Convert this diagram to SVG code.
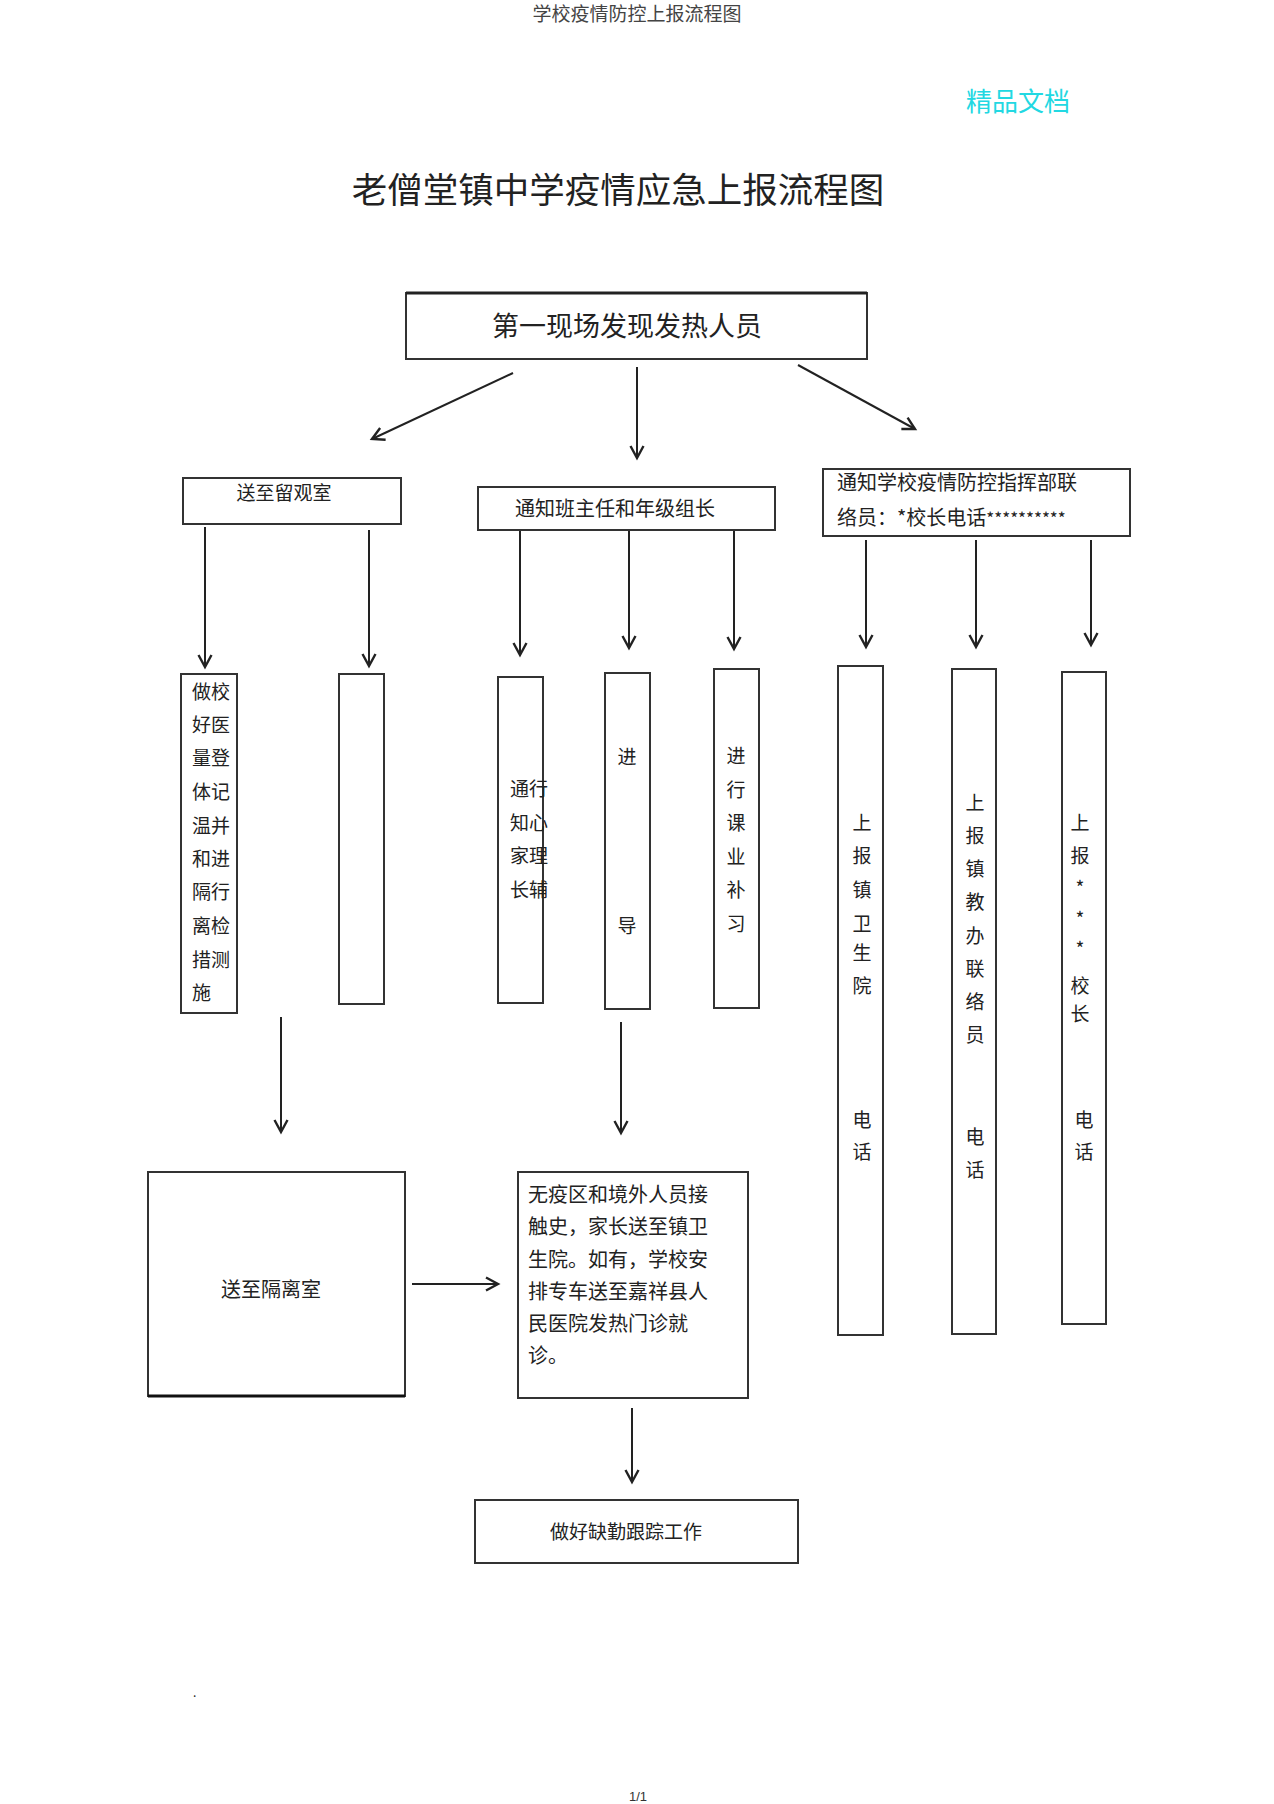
<svg xmlns="http://www.w3.org/2000/svg" width="1274" height="1804" viewBox="0 0 1274 1804">
<defs>
<marker id="ah" markerUnits="userSpaceOnUse" markerWidth="18" markerHeight="18" refX="13" refY="8" orient="auto" viewBox="0 0 18 16">
<path d="M1,1.5 L13,8 L1,14.5" fill="none" stroke="#222" stroke-width="2.4"/>
</marker>
<style>
text{font-family:"Noto Sans CJK SC","Liberation Serif",serif;fill:#222}
.box{fill:#fff;stroke:#333;stroke-width:2}
.t{font-size:19px}
.c{text-anchor:middle}
.arr{stroke:#222;stroke-width:2;fill:none;marker-end:url(#ah)}
</style>
</defs>
<rect width="1274" height="1804" fill="#fff"/>
<text x="637" y="21" class="c" style="font-size:19px;fill:#444">学校疫情防控上报流程图</text>
<text x="1018" y="111" class="c" style="font-size:26px;fill:#22d8e2">精品文档</text>
<text x="618" y="203" class="c" style="font-size:35.5px">老僧堂镇中学疫情应急上报流程图</text>

<g id="n_start"><rect class="box" x="406" y="293" width="461" height="66"/><line x1="406" y1="293" x2="867" y2="293" stroke="#222" stroke-width="3"/><text x="627" y="336" class="c" style="font-size:27px">第一现场发现发热人员</text></g>
<g id="n_liuguan"><rect class="box" x="183" y="478" width="218" height="46"/><text x="284" y="500" class="c t">送至留观室</text></g>
<g id="n_banzhuren"><rect class="box" x="478" y="487" width="297" height="43"/><text x="615" y="516" class="c" style="font-size:20px">通知班主任和年级组长</text></g>
<g id="n_zhihui"><rect class="box" x="823" y="469" width="307" height="67"/><text x="837" y="490" style="font-size:20px">通知学校疫情防控指挥部联</text><text x="837" y="525" style="font-size:20px">络员：*校长电话<tspan style="font-size:17px">**********</tspan></text></g>

<g id="n_celiang"><rect class="box" x="181" y="674" width="56" height="339"/>
<text class="t" x="192" y="699">做校</text><text class="t" x="192" y="732">好医</text><text class="t" x="192" y="765">量登</text><text class="t" x="192" y="799">体记</text><text class="t" x="192" y="833">温并</text><text class="t" x="192" y="866">和进</text><text class="t" x="192" y="899">隔行</text><text class="t" x="192" y="933">离检</text><text class="t" x="192" y="967">措测</text><text class="t" x="192" y="1000">施</text></g>
<g id="n_empty"><rect class="box" x="339" y="674" width="45" height="330"/></g>
<g id="n_xinli"><rect class="box" x="498" y="677" width="45" height="326"/>
<text class="t" x="510" y="796">通行</text><text class="t" x="510" y="830">知心</text><text class="t" x="510" y="863">家理</text><text class="t" x="510" y="897">长辅</text></g>
<g id="n_fudao"><rect class="box" x="605" y="673" width="45" height="336"/>
<text class="t c" x="627" y="764">进</text><text class="t c" x="627" y="933">导</text></g>
<g id="n_buxi"><rect class="box" x="714" y="669" width="45" height="339"/>
<text class="t c" x="736" y="763">进</text><text class="t c" x="736" y="797">行</text><text class="t c" x="736" y="830">课</text><text class="t c" x="736" y="864">业</text><text class="t c" x="736" y="897">补</text><text class="t c" x="736" y="931">习</text></g>

<g id="n_weishengyuan"><rect class="box" x="838" y="666" width="45" height="669"/>
<text class="t c" x="862" y="830">上</text><text class="t c" x="862" y="863">报</text><text class="t c" x="862" y="897">镇</text><text class="t c" x="862" y="931">卫</text><text class="t c" x="862" y="960">生</text><text class="t c" x="862" y="993">院</text><text class="t c" x="862" y="1127">电</text><text class="t c" x="862" y="1159">话</text></g>
<g id="n_jiaoban"><rect class="box" x="952" y="669" width="44" height="665"/>
<text class="t c" x="975" y="810">上</text><text class="t c" x="975" y="843">报</text><text class="t c" x="975" y="876">镇</text><text class="t c" x="975" y="909">教</text><text class="t c" x="975" y="943">办</text><text class="t c" x="975" y="976">联</text><text class="t c" x="975" y="1009">络</text><text class="t c" x="975" y="1042">员</text><text class="t c" x="975" y="1144">电</text><text class="t c" x="975" y="1177">话</text></g>
<g id="n_xiaozhang"><rect class="box" x="1062" y="672" width="44" height="652"/>
<text class="t c" x="1080" y="830">上</text><text class="t c" x="1080" y="863">报</text><text class="t c" x="1080" y="895">*</text><text class="t c" x="1080" y="926">*</text><text class="t c" x="1080" y="956">*</text><text class="t c" x="1080" y="993">校</text><text class="t c" x="1080" y="1021">长</text><text class="t c" x="1084" y="1127">电</text><text class="t c" x="1084" y="1159">话</text></g>

<g id="n_geli"><rect class="box" x="148" y="1172" width="257" height="224"/><line x1="148" y1="1396" x2="405" y2="1396" stroke="#111" stroke-width="3"/><text x="271" y="1297" class="c" style="font-size:20px">送至隔离室</text></g>
<g id="n_jiuzhen"><rect class="box" x="518" y="1172" width="230" height="226"/>
<text x="528" y="1202" style="font-size:20px">无疫区和境外人员接</text>
<text x="528" y="1234" style="font-size:20px">触史，家长送至镇卫</text>
<text x="528" y="1267" style="font-size:20px">生院。如有，学校安</text>
<text x="528" y="1299" style="font-size:20px">排专车送至嘉祥县人</text>
<text x="528" y="1331" style="font-size:20px">民医院发热门诊就</text>
<text x="528" y="1363" style="font-size:20px">诊。</text></g>
<g id="n_queqin"><rect class="box" x="475" y="1500" width="323" height="63"/><text x="626" y="1539" class="c t">做好缺勤跟踪工作</text></g>

<g id="connectors">
<line class="arr" x1="513" y1="373" x2="372" y2="439"/>
<line class="arr" x1="637" y1="367" x2="637" y2="458"/>
<line class="arr" x1="798" y1="365" x2="915" y2="429"/>
<line class="arr" x1="205" y1="527" x2="205" y2="667"/>
<line class="arr" x1="369" y1="530" x2="369" y2="666"/>
<line class="arr" x1="520" y1="531" x2="520" y2="655"/>
<line class="arr" x1="629" y1="531" x2="629" y2="648"/>
<line class="arr" x1="734" y1="531" x2="734" y2="649"/>
<line class="arr" x1="866" y1="540" x2="866" y2="647"/>
<line class="arr" x1="976" y1="540" x2="976" y2="647"/>
<line class="arr" x1="1091" y1="540" x2="1091" y2="645"/>
<line class="arr" x1="281" y1="1017" x2="281" y2="1132"/>
<line class="arr" x1="621" y1="1022" x2="621" y2="1133"/>
<line class="arr" x1="412" y1="1284" x2="498" y2="1284"/>
<line class="arr" x1="632" y1="1408" x2="632" y2="1482"/>
</g>
<text x="193" y="1697" style="font-size:12px">.</text>
<text x="638" y="1801" class="c" style="font-size:13px;font-family:'Liberation Sans',sans-serif;fill:#333">1/1</text>
</svg>
